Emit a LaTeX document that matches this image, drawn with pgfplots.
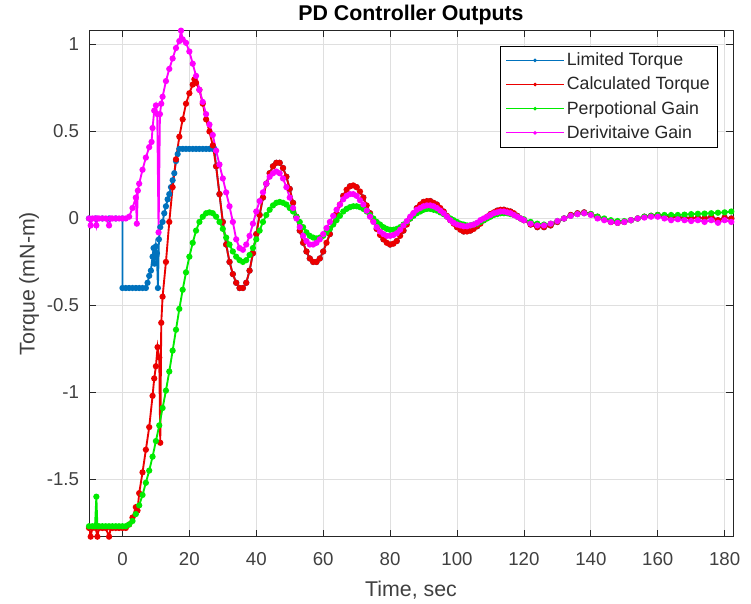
\documentclass[border=0pt]{standalone}
\usepackage{pgfplots}
\pgfplotsset{compat=1.18}
\usepackage{fontspec}
\setmainfont{Liberation Sans}
\definecolor{mblue}{RGB}{0,114,189}
\definecolor{mred}{RGB}{235,0,0}
\definecolor{mgreen}{RGB}{0,235,0}
\definecolor{mmag}{RGB}{255,0,255}
\definecolor{axgray}{RGB}{38,38,38}
\definecolor{tkgray}{RGB}{64,64,64}
\begin{document}
\begin{tikzpicture}
\begin{axis}[
  scale only axis,
  width=483pt, height=379.5pt,
  xmin=-10, xmax=182.5, ymin=-1.83, ymax=1.08,
  xtick={0,20,...,180},
  ytick={-1.5,-1,-0.5,0,0.5,1},
  yticklabels={-1.5,-1,-0.5,0,0.5,1},
  /pgf/number format/assume math mode=true,
  tick align=inside,
  major tick length=5pt,
  axis line style={axgray, line width=0.6pt},
  tick style={axgray, line width=0.6pt},
  grid=major,
  grid style={gray!25, line width=0.5pt},
  ticklabel style={font=\fontsize{14}{16}\selectfont, text=tkgray},
  xticklabel style={yshift=-8pt},
  yticklabel style={xshift=-4pt},
  xlabel={Time, sec},
  ylabel={Torque (mN-m)},
  label style={font=\fontsize{16}{18}\selectfont, text=tkgray},
  xlabel style={yshift=-5pt},
  ylabel style={yshift=-1pt},
  title={PD Controller Outputs},
  title style={font=\bfseries\fontsize{16}{18}\selectfont, yshift=-5pt},
  legend style={at={(0.977,0.970)}, anchor=north east, draw=black, line width=0.6pt, fill=white,
    font=\fontsize{13.3}{16}\selectfont, text=black!85, inner xsep=4pt, inner ysep=3pt, row sep=3pt},
  legend cell align=left,
  legend image code/.code={\draw[#1, line width=0.7pt, mark repeat=2, mark phase=2, mark size=1pt]
    plot coordinates {(0pt,0pt)(21.5pt,0pt)(43pt,0pt)};},
  every axis plot/.append style={line width=1.4pt, mark=*, mark size=1.6pt, mark options={line width=0.3pt}},
]
% Limited Torque
\addplot[mblue, mark options={fill=mblue}] coordinates {
(-10,0)(-8,0)(-6,0)(-4,0)(-2,0)(0,0)(0,-0.40)(1,-0.40)(2,-0.40)(3,-0.40)(4,-0.40)(5,-0.40)(6,-0.40)(7,-0.40)
(7.5,-0.37)(8,-0.33)(8.5,-0.30)(9,-0.22)(9.3,-0.17)(9.6,-0.26)(10,-0.16)(10.3,-0.20)(10.6,-0.40)(10.9,-0.12)
(11.3,-0.05)(12,-0.02)(12.5,0.03)(13,0.07)(13.5,0.11)(14,0.14)(14.5,0.18)(15,0.22)(15.5,0.26)(16,0.33)(16.5,0.37)
(17,0.40)(18,0.40)(19,0.40)(20,0.40)(21,0.40)(22,0.40)(23,0.40)(24,0.40)(25,0.40)(26,0.40)(27,0.40)(27.5,0.40)
(28,0.30)(29,0.14)(30,-0.02)(31,-0.15)(32,-0.25)(33,-0.32)(34,-0.37)(35,-0.40)(36,-0.40)(37,-0.37)(38,-0.30)
(39,-0.20)(40,-0.09)(41,0.02)(42,0.12)(43,0.20)(44,0.26)(45,0.30)(46,0.32)(47,0.32)(48,0.29)(49,0.24)(50,0.17)
(51,0.09)(52,0.01)(53,-0.07)(54,-0.14)(55,-0.19)(56,-0.23)(57,-0.25)(58,-0.25)(59,-0.23)(60,-0.19)(62,-0.09)
(64,0.03)(66,0.13)(68,0.185)(70,0.18)(72,0.12)(74,0.03)(76,-0.06)(78,-0.12)(80,-0.15)(82,-0.13)(84,-0.07)
(86,0.0)(88,0.06)(90,0.095)(92,0.10)(94,0.08)(96,0.04)(98,-0.01)(100,-0.05)(102,-0.075)(104,-0.07)(106,-0.045)
(108,-0.01)(110,0.025)(112,0.045)(114,0.05)(116,0.04)(118,0.015)(120,-0.01)(122,-0.035)(124,-0.05)(126,-0.05)
(128,-0.04)(130,-0.02)(132,0.0)(134,0.02)(136,0.03)(138,0.035)(140,0.025)(142,0.01)(144,-0.005)(146,-0.02)
(148,-0.025)(150,-0.02)(152,-0.01)(154,0.0)(156,0.01)(158,0.015)(160,0.02)(162,0.015)(164,0.01)(166,0.005)
(168,0.005)(170,0.0)(172,0.005)(174,0.0)(176,0.01)(178,-0.01)(180,0.005)(182,0.0)
};
\addlegendentry{Limited Torque}
% Calculated Torque
\addplot[mred, mark options={fill=mred}] coordinates {
(-10,-1.78)(-9.5,-1.83)(-9,-1.78)(-8,-1.78)(-7.5,-1.83)(-7,-1.78)(-6,-1.78)(-5,-1.78)(-4,-1.83)(-3.5,-1.78)
(-3,-1.78)(-2,-1.78)(-1,-1.78)(0,-1.78)(1,-1.78)(2,-1.76)(3,-1.72)(4,-1.66)(4.5,-1.68)(5,-1.58)(6,-1.46)(7,-1.33)
(8,-1.20)(9,-1.02)(9.5,-0.92)(10,-0.85)(10.5,-0.74)(11,-0.80)(11.3,-1.29)(11.6,-0.60)(12,-0.45)(13,-0.25)
(14,-0.02)(15,0.18)(16,0.34)(17,0.47)(18,0.57)(19,0.66)(20,0.72)(21,0.77)(21.5,0.80)(22,0.78)(23,0.74)
(24,0.66)(25,0.57)(26,0.50)(27,0.42)(28,0.30)(29,0.14)(30,-0.02)(31,-0.15)(32,-0.25)(33,-0.32)(34,-0.37)
(35,-0.40)(36,-0.40)(37,-0.37)(38,-0.30)(39,-0.20)(40,-0.09)(41,0.02)(42,0.12)(43,0.20)(44,0.26)(45,0.30)
(46,0.32)(47,0.32)(48,0.29)(49,0.24)(50,0.17)(51,0.09)(52,0.01)(53,-0.07)(54,-0.14)(55,-0.19)(56,-0.23)
(57,-0.25)(58,-0.25)(59,-0.23)(60,-0.19)(61,-0.14)(62,-0.09)(63,-0.03)(64,0.03)(65,0.08)(66,0.13)(67,0.165)
(68,0.185)(69,0.19)(70,0.18)(71,0.155)(72,0.12)(73,0.075)(74,0.03)(75,-0.015)(76,-0.06)(77,-0.095)(78,-0.12)
(79,-0.14)(80,-0.15)(81,-0.145)(82,-0.13)(83,-0.10)(84,-0.07)(85,-0.035)(86,0.0)(87,0.03)(88,0.06)(89,0.08)
(90,0.095)(91,0.10)(92,0.10)(93,0.09)(94,0.08)(95,0.06)(96,0.04)(97,0.015)(98,-0.01)(99,-0.03)(100,-0.05)
(101,-0.065)(102,-0.075)(103,-0.075)(104,-0.07)(105,-0.06)(106,-0.045)(107,-0.03)(108,-0.01)(109,0.01)
(110,0.025)(111,0.035)(112,0.045)(113,0.05)(114,0.05)(115,0.045)(116,0.04)(117,0.03)(118,0.015)(119,0.0)
(120,-0.01)(122,-0.035)(124,-0.05)(126,-0.05)(128,-0.04)(130,-0.02)(132,0.0)(134,0.02)(136,0.03)(138,0.035)
(140,0.025)(142,0.01)(144,-0.005)(146,-0.02)(148,-0.025)(150,-0.02)(152,-0.01)(154,0.0)(156,0.01)(158,0.015)
(160,0.02)(162,0.015)(164,0.01)(166,0.005)(168,0.005)(170,0.0)(172,0.005)(174,0.0)(176,0.01)(178,-0.01)
(180,0.005)(182,0.0)
};
\addlegendentry{Calculated Torque}
% Perpotional Gain
\addplot[mgreen, mark options={fill=mgreen}] coordinates {
(-10,-1.77)(-9,-1.77)(-8.2,-1.77)(-7.8,-1.60)(-7.5,-1.77)(-7,-1.77)(-6,-1.77)(-5,-1.77)(-4,-1.77)(-3,-1.77)
(-2,-1.77)(-1,-1.77)(0,-1.77)(1,-1.77)(2,-1.76)(3,-1.74)(4,-1.70)(5,-1.65)(6,-1.59)(7,-1.52)(8,-1.45)(9,-1.37)
(10,-1.28)(11,-1.19)(12,-1.09)(13,-0.99)(14,-0.88)(15,-0.76)(16,-0.64)(17,-0.52)(18,-0.41)(19,-0.31)
(20,-0.22)(21,-0.14)(22,-0.07)(23,-0.02)(24,0.01)(25,0.03)(26,0.035)(27,0.03)(28,0.01)(29,-0.02)(30,-0.06)
(31,-0.11)(32,-0.15)(33,-0.19)(34,-0.22)(35,-0.24)(36,-0.25)(37,-0.24)(38,-0.21)(39,-0.17)(40,-0.12)
(41,-0.07)(42,-0.02)(43,0.02)(44,0.05)(45,0.075)(46,0.09)(47,0.095)(48,0.09)(49,0.08)(50,0.06)(51,0.04)
(52,0.01)(53,-0.02)(54,-0.05)(55,-0.08)(56,-0.10)(57,-0.11)(58,-0.115)(59,-0.11)(60,-0.10)(61,-0.08)
(62,-0.06)(63,-0.035)(64,-0.01)(65,0.015)(66,0.04)(67,0.055)(68,0.065)(69,0.07)(70,0.07)(71,0.065)(72,0.055)
(73,0.04)(74,0.02)(75,0.0)(76,-0.02)(77,-0.035)(78,-0.05)(79,-0.06)(80,-0.065)(81,-0.065)(82,-0.06)(83,-0.05)
(84,-0.035)(85,-0.02)(86,0.0)(87,0.015)(88,0.03)(89,0.04)(90,0.05)(91,0.055)(92,0.055)(93,0.05)(94,0.045)
(95,0.035)(96,0.025)(97,0.01)(98,0.0)(99,-0.01)(100,-0.02)(101,-0.03)(102,-0.035)(103,-0.04)(104,-0.04)
(105,-0.035)(106,-0.03)(107,-0.02)(108,-0.01)(109,0.0)(110,0.01)(111,0.02)(112,0.025)(113,0.03)(114,0.03)
(115,0.03)(116,0.025)(117,0.02)(118,0.01)(119,0.0)(120,-0.005)(122,-0.02)(124,-0.03)(126,-0.035)(128,-0.03)
(130,-0.015)(132,0.0)(134,0.015)(136,0.025)(138,0.03)(140,0.025)(142,0.01)(144,0.0)(146,-0.01)(148,-0.015)
(150,-0.015)(152,-0.01)(154,0.0)(156,0.01)(158,0.015)(160,0.02)(162,0.02)(164,0.02)(166,0.02)(168,0.022)
(170,0.025)(172,0.027)(174,0.028)(176,0.03)(178,0.033)(180,0.035)(182,0.04)
};
\addlegendentry{Perpotional Gain}
% Derivitaive Gain
\addplot[mmag, mark options={fill=mmag}] coordinates {
(-10,0)(-9.5,-0.04)(-9,0)(-8.2,0)(-7.8,-0.04)(-7.5,0)(-7,0)(-6,0)(-5,0)(-4,-0.04)(-3.5,0)(-3,0)(-2,0)(-1,0)
(0,0)(1,0)(2,0.01)(3,0.06)(4,0.12)(4.3,-0.03)(4.6,0.16)(5,0.20)(6,0.28)(7,0.35)(8,0.41)(8.7,0.44)(9,0.52)
(9.5,0.62)(10,0.65)(10.4,0.60)(10.8,-0.08)(11.2,0.60)(11.6,0.66)(12,0.70)(13,0.79)(14,0.86)(15,0.92)(16,0.98)
(17,1.02)(17.5,1.08)(18,1.03)(19,1.01)(20,0.96)(21,0.89)(22,0.82)(23,0.74)(24,0.67)(25,0.60)(26,0.54)
(27,0.48)(28,0.39)(29,0.31)(30,0.23)(31,0.15)(32,0.07)(33,-0.02)(34,-0.12)(35,-0.17)(36,-0.18)(37,-0.15)
(38,-0.10)(39,-0.03)(40,0.04)(41,0.10)(42,0.15)(43,0.20)(44,0.24)(45,0.26)(46,0.27)(47,0.26)(48,0.23)
(49,0.18)(50,0.12)(51,0.06)(52,0.0)(53,-0.05)(54,-0.10)(55,-0.13)(56,-0.15)(57,-0.15)(58,-0.14)(59,-0.12)
(60,-0.09)(61,-0.055)(62,-0.02)(63,0.015)(64,0.05)(65,0.08)(66,0.11)(67,0.13)(68,0.14)(69,0.14)(70,0.13)
(71,0.105)(72,0.08)(73,0.045)(74,0.01)(75,-0.02)(76,-0.05)(77,-0.075)(78,-0.09)(79,-0.10)(80,-0.10)
(81,-0.095)(82,-0.085)(83,-0.065)(84,-0.04)(85,-0.015)(86,0.01)(87,0.03)(88,0.05)(89,0.06)(90,0.07)
(91,0.075)(92,0.075)(93,0.07)(94,0.06)(95,0.045)(96,0.03)(97,0.01)(98,-0.01)(99,-0.025)(100,-0.035)
(101,-0.04)(102,-0.045)(103,-0.045)(104,-0.04)(105,-0.035)(106,-0.025)(107,-0.01)(108,0.0)(109,0.01)
(110,0.02)(111,0.03)(112,0.035)(113,0.04)(114,0.04)(115,0.035)(116,0.03)(117,0.02)(118,0.01)(119,0.0)
(120,-0.01)(122,-0.03)(124,-0.04)(126,-0.04)(128,-0.03)(130,-0.015)(132,0.0)(134,0.015)(136,0.025)(138,0.03)
(140,0.02)(142,0.0)(144,-0.01)(146,-0.02)(148,-0.025)(150,-0.02)(152,-0.01)(154,0.0)(156,0.005)(158,0.01)
(160,0.01)(162,0.0)(164,-0.01)(166,-0.005)(168,-0.01)(170,-0.015)(172,-0.01)(174,-0.02)(176,-0.01)
(178,-0.025)(180,-0.01)(182,-0.02)
};
\addlegendentry{Derivitaive Gain}
\end{axis}
\path ([xshift=-66.75pt,yshift=-45pt]current axis.south west) rectangle ([xshift=13.5pt,yshift=23pt]current axis.north east);
\end{tikzpicture}
\end{document}
